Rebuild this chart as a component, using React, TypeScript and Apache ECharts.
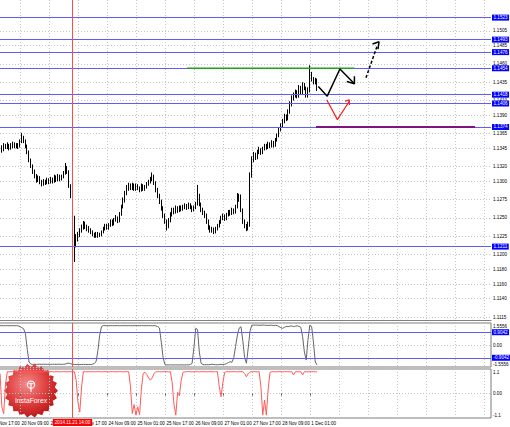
import React, { useEffect, useRef } from 'react';
import * as echarts from 'echarts';

// ---------- data ----------
const firstBarIndex = 5; // 19 Nov 22:00 (index 0 = 19 Nov 17:00)
const categoryCount = 277;
const firstOpen = 1.1344;

const closes = [
  1.1346,1.1343,1.1348,1.1347,1.1349,1.1346,1.1348,1.1351,1.1348,1.1349,
  1.1348,1.1354,1.1359,1.1355,1.1348,1.1340,1.1329,1.1321,1.1313,1.1308,
  1.1302,1.1305,1.1299,1.1296,1.1300,1.1298,1.1302,1.1299,1.1303,1.1300,
  1.1306,1.1302,1.1307,1.1303,1.1306,1.1311,1.1319,1.1313,1.1294,1.1280,
  1.1250,1.1216,1.1223,1.1227,1.1233,1.1237,1.1242,1.1238,1.1236,1.1233,
  1.1231,1.1227,1.1226,1.1229,1.1226,1.1227,1.1231,1.1235,1.1239,1.1237,
  1.1240,1.1245,1.1242,1.1247,1.1250,1.1246,1.1255,1.1265,1.1274,1.1283,
  1.1290,1.1294,1.1291,1.1295,1.1290,1.1294,1.1291,1.1288,1.1294,1.1290,
  1.1292,1.1296,1.1299,1.1303,1.1307,1.1298,1.1288,1.1280,1.1272,1.1264,
  1.1253,1.1245,1.1239,1.1247,1.1255,1.1261,1.1258,1.1264,1.1260,1.1264,
  1.1262,1.1265,1.1266,1.1264,1.1268,1.1265,1.1261,1.1264,1.1269,1.1280,
  1.1269,1.1261,1.1257,1.1253,1.1245,1.1237,1.1233,1.1235,1.1231,1.1235,
  1.1239,1.1244,1.1250,1.1253,1.1249,1.1254,1.1258,1.1256,1.1261,1.1258,
  1.1265,1.1274,1.1280,1.1261,1.1245,1.1239,1.1235,1.1242,1.1308,1.1329,
  1.1336,1.1332,1.1340,1.1343,1.1339,1.1344,1.1348,1.1346,1.1351,1.1348,
  1.1352,1.1349,1.1356,1.1362,1.1370,1.1375,1.1381,1.1388,1.1385,1.1394,
  1.1405,1.1413,1.1417,1.1421,1.1416,1.1427,1.1421,1.1431,1.1427,1.1417,
  1.1424,1.1446,1.1439,1.1435,1.1438,1.1426,
];

const highs = [
  1.1350,1.1349,1.1352,1.1351,1.1353,1.1351,1.1352,1.1354,1.1353,1.1352,
  1.1352,1.1357,1.1366,1.1362,1.1357,1.1350,1.1342,1.1331,1.1323,1.1316,
  1.1310,1.1308,1.1307,1.1302,1.1303,1.1302,1.1305,1.1304,1.1306,1.1305,
  1.1309,1.1308,1.1310,1.1309,1.1309,1.1314,1.1325,1.1321,1.1315,1.1296,
  1.1283,1.1253,1.1228,1.1231,1.1236,1.1241,1.1246,1.1245,1.1241,1.1239,
  1.1236,1.1233,1.1230,1.1231,1.1231,1.1230,1.1233,1.1238,1.1242,1.1242,
  1.1243,1.1248,1.1248,1.1250,1.1254,1.1252,1.1258,1.1268,1.1278,1.1287,
  1.1295,1.1298,1.1297,1.1298,1.1297,1.1297,1.1296,1.1293,1.1297,1.1296,
  1.1295,1.1299,1.1302,1.1306,1.1312,1.1309,1.1300,1.1291,1.1283,1.1275,
  1.1266,1.1256,1.1248,1.1250,1.1258,1.1264,1.1264,1.1267,1.1266,1.1267,
  1.1267,1.1268,1.1270,1.1269,1.1271,1.1270,1.1267,1.1267,1.1272,1.1295,
  1.1283,1.1271,1.1264,1.1260,1.1256,1.1248,1.1240,1.1238,1.1237,1.1238,
  1.1242,1.1247,1.1253,1.1256,1.1255,1.1257,1.1261,1.1261,1.1264,1.1263,
  1.1268,1.1284,1.1283,1.1282,1.1263,1.1248,1.1242,1.1245,1.1312,1.1334,
  1.1340,1.1339,1.1343,1.1347,1.1345,1.1347,1.1351,1.1351,1.1354,1.1353,
  1.1356,1.1355,1.1359,1.1365,1.1373,1.1379,1.1385,1.1392,1.1391,1.1398,
  1.1409,1.1417,1.1421,1.1425,1.1424,1.1431,1.1430,1.1435,1.1434,1.1429,
  1.1428,1.1458,1.1449,1.1442,1.1441,1.1440,
];

const lows = [
  1.1341,1.1339,1.1341,1.1344,1.1344,1.1342,1.1343,1.1345,1.1345,1.1345,
  1.1344,1.1346,1.1352,1.1352,1.1345,1.1337,1.1326,1.1318,1.1310,1.1304,
  1.1298,1.1299,1.1296,1.1293,1.1294,1.1295,1.1296,1.1296,1.1297,1.1297,
  1.1298,1.1299,1.1300,1.1300,1.1301,1.1304,1.1309,1.1310,1.1291,1.1277,
  1.1246,1.1190,1.1210,1.1218,1.1224,1.1230,1.1234,1.1235,1.1232,1.1230,
  1.1228,1.1225,1.1223,1.1223,1.1223,1.1224,1.1225,1.1229,1.1233,1.1234,
  1.1234,1.1238,1.1239,1.1240,1.1245,1.1243,1.1244,1.1253,1.1263,1.1271,
  1.1281,1.1287,1.1288,1.1288,1.1287,1.1287,1.1288,1.1285,1.1286,1.1287,
  1.1287,1.1290,1.1294,1.1297,1.1300,1.1295,1.1285,1.1277,1.1269,1.1260,
  1.1250,1.1242,1.1233,1.1236,1.1244,1.1252,1.1255,1.1256,1.1257,1.1258,
  1.1259,1.1260,1.1262,1.1261,1.1262,1.1262,1.1258,1.1259,1.1262,1.1267,
  1.1266,1.1258,1.1254,1.1250,1.1242,1.1234,1.1230,1.1230,1.1228,1.1229,
  1.1233,1.1237,1.1242,1.1247,1.1246,1.1247,1.1252,1.1253,1.1254,1.1255,
  1.1256,1.1263,1.1272,1.1258,1.1242,1.1236,1.1232,1.1233,1.1238,1.1305,
  1.1326,1.1329,1.1330,1.1337,1.1336,1.1337,1.1342,1.1343,1.1344,1.1345,
  1.1346,1.1346,1.1347,1.1354,1.1360,1.1368,1.1373,1.1379,1.1382,1.1383,
  1.1392,1.1402,1.1410,1.1414,1.1413,1.1414,1.1418,1.1419,1.1424,1.1414,
  1.1414,1.1421,1.1436,1.1432,1.1432,1.1423,
];

const oscGray = [
  1.37,1.37,1.36,1.37,1.37,1.36,1.37,1.37,1.36,1.37,1.35,
  1.30,1.22,1.15,0.80,-0.30,-1.20,
  -1.36,-1.37,-1.36,-1.37,-1.36,-1.36,-1.37,-1.36,-1.36,-1.37,-1.36,-1.37,-1.36,-1.36,-1.37,-1.36,-1.36,-1.37,-1.36,-1.35,
  -1.30,-1.28,-1.33,-1.36,
  -1.38,-1.38,-1.37,-1.38,-1.38,-1.37,-1.38,-1.38,-1.37,-1.38,-1.36,-1.30,
  -1.18,-0.40,0.70,1.30,
  1.37,1.37,1.36,1.37,1.37,1.37,1.36,1.37,1.37,1.36,1.37,1.37,1.37,1.36,1.37,1.37,1.36,1.37,1.37,1.37,1.36,1.37,1.37,1.36,1.37,1.37,1.37,1.36,1.37,1.35,1.30,
  1.20,0.20,-0.90,
  -1.38,-1.41,-1.41,-1.40,-1.41,-1.41,-1.40,-1.41,-1.41,-1.40,-1.41,-1.41,-1.40,-1.41,-1.38,-1.30,
  -0.20,1.18,1.10,-0.50,-1.30,
  -1.38,-1.40,-1.39,-1.40,-1.38,-1.36,-1.38,-1.39,-1.40,-1.38,-1.37,-1.38,-1.36,-1.32,
  -1.25,-1.18,-1.22,
  -0.90,-0.10,0.70,1.20,1.29,0.30,-0.90,-1.29,-0.20,1.00,
  1.41,1.40,1.41,1.40,1.39,1.40,1.41,1.40,1.39,1.38,1.40,1.39,1.38,1.39,1.37,1.30,1.22,1.18,1.25,1.32,1.30,1.33,1.35,1.30,1.33,1.36,1.32,1.25,
  0.60,-0.50,-1.06,0.40,1.41,1.30,0.20,-1.20,-1.41,
];

const oscRed = [
  0.90,-0.60,-0.90,0.40,
  0.98,0.97,0.98,0.98,0.97,0.98,0.98,0.98,0.97,0.98,0.98,0.97,0.98,0.98,0.98,0.97,0.98,0.98,0.97,0.98,
  0.98,0.98,0.97,0.98,0.98,0.98,0.97,0.98,0.98,0.97,0.98,0.98,0.98,0.97,0.98,0.98,0.97,0.98,
  0.60,-0.40,-0.83,0.30,
  0.98,0.98,0.97,0.98,0.98,0.98,0.97,0.98,0.98,0.98,0.97,0.98,0.98,0.98,0.97,0.98,0.98,0.98,0.97,0.98,0.98,0.98,0.97,0.98,0.98,0.98,
  0.30,-0.90,-0.50,-0.97,-0.60,-0.95,0.20,0.90,0.95,0.85,0.70,0.60,0.70,0.90,0.97,
  0.98,0.98,0.97,0.98,0.98,0.98,0.97,0.98,
  0.50,-0.50,-0.97,0.05,-0.10,0.60,0.95,
  0.97,0.98,0.98,0.98,0.97,0.98,0.98,0.98,0.97,0.98,0.98,0.98,0.97,0.98,0.98,0.98,0.97,0.98,0.98,
  0.30,-0.14,0.50,0.95,
  0.98,0.98,0.97,0.98,0.98,0.98,0.97,0.98,0.98,0.98,
  0.90,0.75,0.90,
  0.97,0.98,0.98,0.98,0.97,0.98,
  0.30,-0.97,-0.30,-0.97,0.20,0.95,
  0.98,0.98,0.97,0.98,0.98,0.98,0.97,0.98,0.98,0.98,0.97,0.98,
  0.83,
  0.98,0.98,0.97,0.98,
  0.83,
  0.98,0.98,0.97,0.98,0.98,0.98,0.97,0.98,
];

const priceTickLabels = [1.1505,1.1485,1.1460,1.1435,1.1410,1.1390,1.1365,1.1345,1.1320,1.1300,1.1275,1.1250,1.1225,1.1200,1.1180,1.1160,1.1140,1.1115];
const blueLevels = [1.1523, 1.1493, 1.1476, 1.1454, 1.1418, 1.1406, 1.1374, 1.1211];
const currentPrice = 1.1426;
const oscGrayTicks = [1.5556, 0, -1.5556];
const oscGrayLevels = [0.9042, -0.9042];
const oscRedTicks = [1.1, 0, -1.1];
const markerIndex = 45; // 2014.11.21 14:00
const markerLabel = '2014.11.21 14:00';

// analyst drawings (bar index, price)
const greenLine = [[108.2, 1.1454], [200.6, 1.1454]];
const purpleLine = [[179.4, 1.1374], [267.2, 1.1374]];
const blackPath = [[180.7, 1.1429], [185.6, 1.1416], [192.6, 1.1453], [200.6, 1.1433]];
const blackHead = [[196.4, 1.1436], [200.6, 1.1433], [200.6, 1.1443]];
const redPath = [[185.3, 1.1411], [191.2, 1.1384], [197.8, 1.1409]];
const redHead = [[195.4, 1.1409], [197.8, 1.1411], [197.8, 1.1404]];
const dashPath = [[207.0, 1.1441], [213.1, 1.1484]];
const dashHead = [[210.6, 1.1487], [214.2, 1.1490], [213.6, 1.1480]];

// ---------- helpers ----------
const MONTHS = ['Jan','Feb','Mar','Apr','May','Jun','Jul','Aug','Sep','Oct','Nov','Dec'];
function buildCategories(n: number): string[] {
  const out: string[] = [];
  let t = Date.UTC(2014, 10, 19, 17);
  while (out.length < n) {
    const d = new Date(t);
    const wd = d.getUTCDay();
    if (wd !== 0 && wd !== 6) {
      out.push(`${d.getUTCDate()} ${MONTHS[d.getUTCMonth()]} ${String(d.getUTCHours()).padStart(2, '0')}:00`);
    }
    t += 3600000;
  }
  return out;
}
function pad(arr: any[]): any[] {
  const out: any[] = new Array(categoryCount).fill('-');
  arr.forEach((v, k) => { out[firstBarIndex + k] = v; });
  return out;
}

const FONT = 'Liberation Sans';
const FS = 4.6;
const gridLine = { show: true, lineStyle: { color: '#c4c4c4', type: [1, 2] as any, width: 1 } };
const edgeRich = {
  tp: { fontSize: FS, color: '#000', fontFamily: FONT, padding: [6, 0, 0, 0] },
  bt: { fontSize: FS, color: '#000', fontFamily: FONT, padding: [0, 0, 6, 0] },
  md: { fontSize: FS, color: '#000', fontFamily: FONT },
};

export default function App() {
  const ref = useRef<HTMLDivElement>(null);
  useEffect(() => {
    if (!ref.current) return;
    const chart = echarts.init(ref.current, undefined, { renderer: 'svg' });
    const cats = buildCategories(categoryCount);
    const lastLabelIdx = firstBarIndex + closes.length - 5;
    const candles = closes.map((c, k) => [k === 0 ? firstOpen : closes[k - 1], c, lows[k], highs[k]]);
    const vInterval = (i: number) => i % 16 === 0;

    const catAxis = (gridIndex: number, withLabels: boolean, axisLine: boolean) => ({
      type: 'category', gridIndex, data: cats, boundaryGap: false,
      axisLine: { show: axisLine, lineStyle: { color: '#808080' } },
      axisTick: withLabels ? { show: true, interval: (i: number) => vInterval(i) && i <= lastLabelIdx, length: 2, lineStyle: { color: '#555' } } : { show: false },
      axisLabel: withLabels ? {
        show: true, interval: (i: number) => vInterval(i) && i <= lastLabelIdx,
        align: 'left', padding: [0, 0, 0, 1.5], margin: 3, fontSize: FS, color: '#000', fontFamily: FONT,
        hideOverlap: false,
      } : { show: false },
      splitLine: { ...gridLine, interval: (i: number) => vInterval(i) },
    });

    const starPts: number[][] = [];
    const spikes = 22;
    for (let k = 0; k < spikes * 2; k++) {
      const a = (k * Math.PI) / spikes;
      const r = k % 2 === 0 ? 27 : 24;
      starPts.push([Math.cos(a) * r, Math.sin(a) * r]);
    }

    const redV = { xAxis: cats[markerIndex], lineStyle: { color: '#ff4a4a', width: 1, type: 'solid' }, label: { show: false } };
    const blueLabel = {
      show: true, position: 'end', distance: 1,
      formatter: (p: any) => Number(p.value).toFixed(4),
      backgroundColor: '#0000ff', color: '#ffffff', fontSize: FS, fontFamily: FONT, padding: [0.5, 1.5, 0.5, 1.5],
    };

    const drawLine = (data: number[][], color: string, width: number, type: any = 'solid') => ({
      type: 'line', xAxisIndex: 3, yAxisIndex: 0, data, showSymbol: false, symbol: 'none', silent: true,
      lineStyle: { color, width, type }, z: 5,
    });

    const edgeFormatter = (maxV: number, minV: number, digits: number) => (v: number) => {
      if (v === 0) return '{md|0.00}';
      if (v >= maxV) return `{tp|${v.toFixed(digits)}}`;
      if (v <= minV) return `{bt|${v.toFixed(digits)}}`;
      return `{md|${v.toFixed(digits)}}`;
    };

    const gridBase = { left: -9, right: 19, outerBoundsMode: 'none', containLabel: false };

    const option: any = {
      animation: false,
      backgroundColor: '#ffffff',
      textStyle: { fontFamily: FONT },
      grid: [
        { ...gridBase, top: 0, height: 320 },
        { ...gridBase, top: 323, height: 44, show: true, borderColor: '#7a7a7a', borderWidth: 1 },
        { ...gridBase, top: 369, height: 49, show: true, borderColor: '#7a7a7a', borderWidth: 1 },
      ],
      xAxis: [
        catAxis(0, false, true),
        catAxis(1, false, false),
        catAxis(2, true, false),
        { type: 'value', gridIndex: 0, min: 0, max: categoryCount - 1, show: false },
      ],
      yAxis: [
        {
          type: 'value', gridIndex: 0, position: 'right', min: 1.1111, max: 1.1547,
          axisLine: { show: true, lineStyle: { color: '#606060' } },
          axisTick: { show: true, length: 1.5, customValues: priceTickLabels, lineStyle: { color: '#606060' } },
          axisLabel: { customValues: priceTickLabels, formatter: (v: number) => v.toFixed(4), fontSize: FS, color: '#000', margin: 2, fontFamily: FONT },
          splitLine: gridLine,
        },
        {
          type: 'value', gridIndex: 1, position: 'right', min: -1.5556, max: 1.5556,
          axisLine: { show: false },
          axisTick: { show: false, customValues: oscGrayTicks },
          axisLabel: {
            customValues: oscGrayTicks, formatter: edgeFormatter(1.5556, -1.5556, 4),
            rich: edgeRich, fontSize: FS, color: '#000', margin: 2, fontFamily: FONT,
          },
          splitLine: gridLine,
        },
        {
          type: 'value', gridIndex: 2, position: 'right', min: -1.1, max: 1.1,
          axisLine: { show: false },
          axisTick: { show: false, customValues: oscRedTicks },
          axisLabel: {
            customValues: oscRedTicks, formatter: edgeFormatter(1.1, -1.1, 1),
            rich: edgeRich, fontSize: FS, color: '#000', margin: 2, fontFamily: FONT,
          },
          splitLine: gridLine,
        },
      ],
      series: [
        {
          type: 'candlestick', xAxisIndex: 0, yAxisIndex: 0, data: pad(candles), barWidth: 1,
          itemStyle: { color: '#ffffff', color0: '#000000', borderColor: '#000000', borderColor0: '#000000', borderWidth: 1 },
          markLine: {
            silent: true, symbol: ['none', 'none'], animation: false, precision: 4,
            lineStyle: { color: '#5c5cff', width: 1, type: 'solid' },
            label: blueLabel,
            data: [
              ...blueLevels.map((v) => ({ yAxis: v })),
              { yAxis: currentPrice, lineStyle: { opacity: 0 }, label: { ...blueLabel, backgroundColor: '#000000' } },
              redV,
            ],
          },
          z: 3,
        },
        drawLine(greenLine, '#22a022', 1.5),
        drawLine(purpleLine, '#7d157d', 2),
        drawLine(blackPath, '#000000', 1.5),
        drawLine(blackHead, '#000000', 1.5),
        drawLine(redPath, '#ff1a1a', 1.2),
        drawLine(redHead, '#ff1a1a', 1.2),
        drawLine(dashPath, '#000000', 1.5, [3, 2]),
        drawLine(dashHead, '#000000', 1.5),
        {
          type: 'line', xAxisIndex: 1, yAxisIndex: 1, data: pad(oscGray), showSymbol: false, symbol: 'none',
          lineStyle: { color: '#666666', width: 1 },
          markLine: {
            silent: true, symbol: ['none', 'none'], animation: false, precision: 4,
            lineStyle: { color: '#5c5cff', width: 1, type: 'solid' },
            label: blueLabel,
            data: [...oscGrayLevels.map((v) => ({ yAxis: v })), redV],
          },
        },
        {
          type: 'line', xAxisIndex: 2, yAxisIndex: 2, data: pad(oscRed), showSymbol: false, symbol: 'none',
          lineStyle: { color: '#ff5a5a', width: 1 },
          markLine: {
            silent: true, symbol: ['none', 'none'], animation: false, z: 20,
            data: [{
              xAxis: cats[markerIndex], lineStyle: { color: '#ff4a4a', width: 1, type: 'solid' },
              label: {
                show: true, position: 'start', distance: 1, formatter: markerLabel,
                backgroundColor: '#ff0000', color: '#ffffff', fontSize: FS, fontFamily: FONT, padding: [1, 2, 1, 2],
              },
            }],
          },
        },
      ],
      graphic: [
        {
          type: 'group', left: 4, top: 364, z: 100,
          children: [
            {
              type: 'polygon', x: 27, y: 27, shape: { points: starPts },
              style: {
                fill: { type: 'radial', x: 0.42, y: 0.38, r: 0.6, colorStops: [{ offset: 0, color: '#f58a8a' }, { offset: 0.6, color: '#e04040' }, { offset: 1, color: '#c01c1c' }] },
              },
            },
            { type: 'ring', x: 27, y: 21, shape: { r: 4.2, r0: 3.2 }, style: { fill: '#ffffff' } },
            { type: 'line', shape: { x1: 27, y1: 19, x2: 27, y2: 28 }, style: { stroke: '#ffffff', lineWidth: 1.2 } },
            { type: 'line', shape: { x1: 24.5, y1: 20, x2: 29.5, y2: 20 }, style: { stroke: '#ffffff', lineWidth: 1 } },
            { type: 'text', x: 27, y: 37, style: { text: 'InstaForex', fill: '#ffffff', fontSize: 6.8, fontFamily: FONT, textAlign: 'center', textVerticalAlign: 'middle' } },
          ],
        },
      ],
    };
    chart.setOption(option);
    return () => chart.dispose();
  }, []);
  return <div ref={ref} style={{ position: 'fixed', left: 0, top: 0, width: 510, height: 427 }} />;
}
